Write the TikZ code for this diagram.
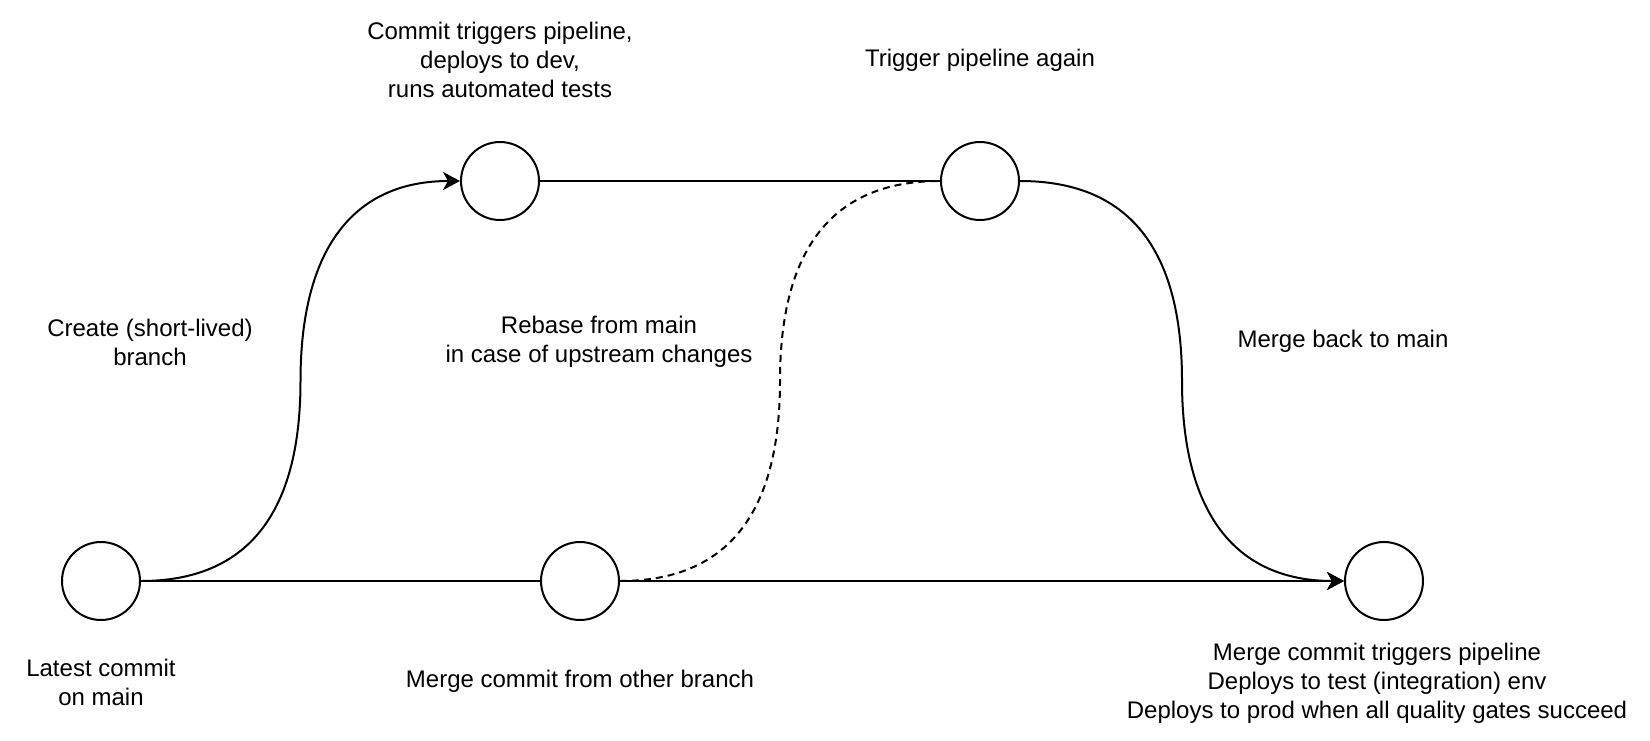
\documentclass[tikz,border=0pt]{standalone}
\usepackage{fontspec}
\setmainfont{Liberation Sans}
\usetikzlibrary{arrows.meta,calc}
\tikzset{
  commit/.style={circle,draw,line width=2pt,minimum size=78pt,inner sep=0pt},
  note/.style={align=center,font=\fontsize{24}{29}\selectfont},
  flow/.style={line width=2pt},
  tip/.style={-{Stealth[length=17pt,width=18pt,inset=5pt]}}
}
\begin{document}
\begin{tikzpicture}[x=1pt,y=1pt,yscale=-1]
\useasboundingbox (0,0) rectangle (1650,740);
\node[commit] (c1) at (101,581) {};
\node[commit] (c2) at (500,181) {};
\node[commit] (c3) at (980,181) {};
\node[commit] (c4) at (580,581) {};
\node[commit] (c5) at (1384,581) {};
\node[note] (t2) at (500,60) {Commit triggers pipeline,\\deploys to dev,\\runs automated tests};
\node[note] (t3) at (980,60) {Trigger pipeline again};
\node[note] (tb) at (150,342) {Create (short-lived)\\branch};
\node[note] (tr) at (599,342) {Rebase from main\\in case of upstream changes};
\node[note] (tm) at (1343,341) {Merge back to main};
\node[note] (t1) at (101,682) {Latest commit\\on main};
\node[note] (t4) at (580,681) {Merge commit from other branch};
\node[note] (t5) at (1377,683) {Merge commit triggers pipeline\\Deploys to test (integration) env\\Deploys to prod when all quality gates succeed};
% main line
\draw[flow] (c1.east) -- (c4.west);
\draw[flow,tip] (c4.east) -- (c5.west);
% branch
\coordinate (m1) at ($(c1.east)!0.5!(c2.west)$);
\draw[flow,tip] (c1.east) .. controls +(106,0) and +(0,133) .. (m1) .. controls +(0,-133) and +(-106,0) .. (c2.west);
\draw[flow] (c2.east) -- (c3.west);
% rebase
\coordinate (m2) at ($(c4.east)!0.5!(c3.west)$);
\draw[flow,dash pattern=on 7pt off 5pt] (c4.east) .. controls +(107,0) and +(0,133) .. (m2) .. controls +(0,-133) and +(-107,0) .. (c3.west);
% merge back
\coordinate (m3) at ($(c3.east)!0.5!(c5.west)$);
\draw[flow,tip] (c3.east) .. controls +(108,0) and +(0,-133) .. (m3) .. controls +(0,133) and +(-108,0) .. (c5.west);
\end{tikzpicture}
\end{document}
